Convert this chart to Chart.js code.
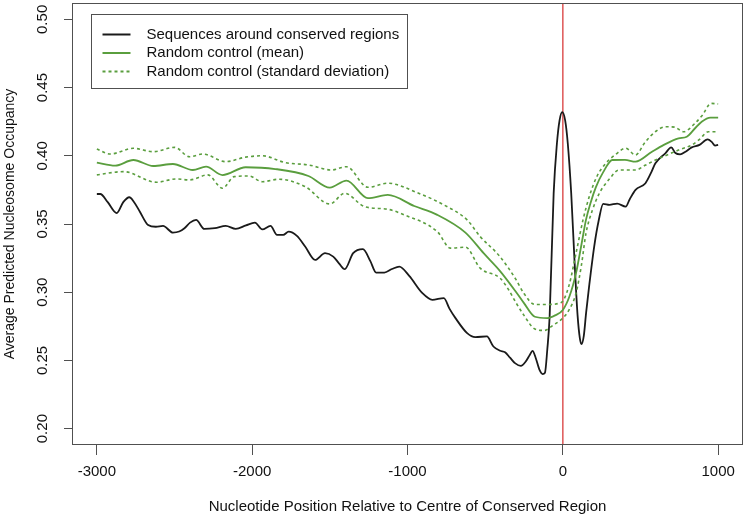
<!DOCTYPE html>
<html>
<head>
<meta charset="utf-8">
<script src="https://cdn.jsdelivr.net/npm/chart.js@4.4.1/dist/chart.umd.min.js"></script>
<style>
  html, body { margin: 0; padding: 0; background: #fff; }
  #wrap { width: 747px; height: 519px; }
</style>
</head>
<body>
<div id="wrap"><canvas id="occChart" width="747" height="519"></canvas></div>
<script>
// values
const seqX = [-3000, -2978, -2930, -2872, -2830, -2791, -2760, -2723, -2670, -2620, -2574, -2510, -2470, -2436, -2400, -2361, -2308, -2240, -2170, -2106, -2040, -1982, -1935, -1882, -1840, -1800, -1765, -1712, -1659, -1595, -1531, -1478, -1440, -1404, -1350, -1287, -1240, -1202, -1149, -1100, -1053, -989, -904, -840, -766, -730, -691, -616, -563, -489, -447, -404, -372, -340, -308, -270, -240, -213, -195, -175, -150, -130, -115, -100, -85, -59, -38, -21, -4, 15, 32, 54, 75, 95, 110, 120, 135, 150, 170, 202, 230, 260, 300, 350, 405, 430, 468, 532, 570, 596, 660, 698, 725, 755, 790, 830, 880, 932, 960, 980, 1000];
const seqY = [0.372, 0.372, 0.366, 0.358, 0.366, 0.3696, 0.366, 0.359, 0.3493, 0.348, 0.3486, 0.3437, 0.3445, 0.3469, 0.351, 0.353, 0.3464, 0.347, 0.3486, 0.3464, 0.349, 0.351, 0.346, 0.3486, 0.342, 0.342, 0.3444, 0.3413, 0.3335, 0.3237, 0.3286, 0.3261, 0.321, 0.3169, 0.3286, 0.3316, 0.323, 0.3144, 0.3144, 0.317, 0.3188, 0.312, 0.2993, 0.2944, 0.2957, 0.288, 0.281, 0.27, 0.2671, 0.2676, 0.2602, 0.2571, 0.256, 0.252, 0.248, 0.246, 0.249, 0.254, 0.257, 0.252, 0.243, 0.240, 0.241, 0.258, 0.282, 0.3725, 0.409, 0.426, 0.432, 0.426, 0.409, 0.3725, 0.3237, 0.283, 0.266, 0.262, 0.268, 0.285, 0.305, 0.3335, 0.352, 0.3647, 0.364, 0.365, 0.3627, 0.368, 0.375, 0.3799, 0.388, 0.3945, 0.4018, 0.4062, 0.402, 0.401, 0.403, 0.4062, 0.408, 0.412, 0.410, 0.4075, 0.408];

const meanX = [-3000, -2882, -2765, -2637, -2510, -2382, -2297, -2191, -2042, -1851, -1638, -1500, -1393, -1255, -1127, -957, -808, -627, -510, -404, -300, -250, -180, -100, -50, 0, 43, 85, 120, 149, 180, 213, 260, 319, 400, 468, 574, 650, 745, 798, 850, 894, 950, 1000];
const meanY = [0.395, 0.3928, 0.3969, 0.3925, 0.394, 0.3896, 0.392, 0.3859, 0.3916, 0.3903, 0.3852, 0.3767, 0.3818, 0.3689, 0.3713, 0.3632, 0.3567, 0.3437, 0.3286, 0.3155, 0.300, 0.292, 0.282, 0.281, 0.283, 0.287, 0.297, 0.314, 0.335, 0.353, 0.366, 0.377, 0.388, 0.3969, 0.397, 0.3957, 0.403, 0.408, 0.4128, 0.414, 0.420, 0.425, 0.428, 0.428];

const upperX = [-3000, -2915, -2765, -2637, -2499, -2403, -2318, -2170, -2042, -1935, -1787, -1638, -1489, -1393, -1255, -1127, -936, -766, -616, -532, -404, -300, -250, -180, -100, -10, 40, 85, 130, 170, 220, 277, 340, 405, 468, 530, 600, 660, 720, 777, 851, 900, 954, 1000];
const upperY = [0.405, 0.4013, 0.4055, 0.403, 0.4062, 0.3993, 0.4013, 0.3957, 0.399, 0.400, 0.395, 0.3933, 0.3896, 0.392, 0.3769, 0.3799, 0.3729, 0.364, 0.353, 0.3408, 0.326, 0.309, 0.299, 0.291, 0.291, 0.2925, 0.305, 0.3286, 0.353, 0.370, 0.385, 0.3945, 0.401, 0.4055, 0.4006, 0.41, 0.418, 0.4213, 0.421, 0.4176, 0.4238, 0.430, 0.4384, 0.438];

const lowerX = [-3000, -2829, -2616, -2489, -2403, -2286, -2191, -2116, -2020, -1935, -1829, -1659, -1500, -1404, -1276, -1127, -1021, -808, -723, -627, -532, -404, -350, -300, -250, -180, -120, -60, 0, 40, 85, 120, 149, 190, 234, 300, 362, 468, 530, 596, 680, 745, 830, 880, 936, 1000];
const lowerY = [0.386, 0.3884, 0.3806, 0.383, 0.3823, 0.386, 0.3762, 0.3847, 0.3852, 0.381, 0.3828, 0.3774, 0.3647, 0.3725, 0.3627, 0.3608, 0.3567, 0.3444, 0.3323, 0.333, 0.3176, 0.3103, 0.302, 0.292, 0.283, 0.273, 0.272, 0.276, 0.281, 0.287, 0.2993, 0.32, 0.3432, 0.360, 0.3723, 0.383, 0.3896, 0.3896, 0.393, 0.3969, 0.401, 0.4042, 0.4079, 0.412, 0.4176, 0.4176];

const xTicks = [-3000, -2000, -1000, 0, 1000];
const yTicks = [0.20, 0.25, 0.30, 0.35, 0.40, 0.45, 0.50];
const labels = ['Sequences around conserved regions', 'Random control (mean)', 'Random control (standard deviation)'];

const xMin = -3160, xMax = 1160, yMin = 0.188, yMax = 0.512;
const green = '#5a9e3e';
const fontFam = '"Liberation Sans", Arial, Helvetica, sans-serif';
const fontSize = 15;

function pts(xs, ys) {
    return xs.map((x, i) => ({x: x, y: ys[i]}));
}

// dataset indices in the order the legend lists them
const legendOrder = [3, 2, 0];

// frame around the plot and the boxed legend in the top left corner
const framePlugin = {
    id: 'framePlugin',
    afterDraw(chart) {
        const ctx = chart.ctx;
        const a = chart.chartArea;
        ctx.save();
        ctx.strokeStyle = '#505050';
        ctx.lineWidth = 1;
        ctx.strokeRect(Math.round(a.left) + 0.5, Math.round(a.top) + 0.5,
            Math.round(a.right - a.left) - 1, Math.round(a.bottom - a.top) - 1);

        // legend
        ctx.font = fontSize + 'px ' + fontFam;
        const entries = legendOrder.map(i => chart.data.datasets[i]);
        let textW = 0;
        entries.forEach(d => { textW = Math.max(textW, ctx.measureText(d.label).width); });
        const bx = Math.round(a.left) + 19.5, by = Math.round(a.top) + 11.5;
        const bw = 55 + textW + 8, rowH = 18.5;
        const bh = entries.length * rowH + 18;
        ctx.strokeRect(bx, by, Math.round(bw), Math.round(bh));
        entries.forEach((d, i) => {
            const cy = by + 20 + i * rowH;
            ctx.strokeStyle = d.borderColor;
            ctx.lineWidth = 2;
            ctx.setLineDash(d.borderDash || []);
            ctx.beginPath();
            ctx.moveTo(bx + 11, cy);
            ctx.lineTo(bx + 39, cy);
            ctx.stroke();
            ctx.setLineDash([]);
            ctx.fillStyle = '#111';
            ctx.textBaseline = 'middle';
            ctx.textAlign = 'left';
            ctx.fillText(d.label, bx + 55, cy);
        });
        ctx.restore();
    }
};

const ctx = document.getElementById('occChart').getContext('2d');
const occChart = new Chart(ctx, {
    type: 'line',
    data: {
        datasets: [
            {
                label: labels[2],
                data: pts(upperX, upperY),
                borderColor: green,
                borderWidth: 1.6,
                borderDash: [3, 3]
            },
            {
                label: labels[2],
                data: pts(lowerX, lowerY),
                borderColor: green,
                borderWidth: 1.6,
                borderDash: [3, 3]
            },
            {
                label: labels[1],
                data: pts(meanX, meanY),
                borderColor: green,
                borderWidth: 1.8
            },
            {
                label: labels[0],
                data: pts(seqX, seqY),
                borderColor: '#1a1a1a',
                borderWidth: 1.8
            },
            {
                label: 'centre',
                data: [{x: 0, y: yMin}, {x: 0, y: yMax}],
                borderColor: '#e06060',
                borderWidth: 1.6,
                tension: 0
            }
        ]
    },
    options: {
        responsive: false,
        animation: false,
        events: [],
        layout: { padding: { top: 3, right: 4, left: 0, bottom: 0 } },
        elements: {
            point: { radius: 0 },
            line: { tension: 0.35, cubicInterpolationMode: 'monotone', fill: false }
        },
        plugins: {
            legend: { display: false },
            tooltip: { enabled: false }
        },
        scales: {
            x: {
                type: 'linear',
                min: xMin,
                max: xMax,
                afterBuildTicks: s => { s.ticks = xTicks.map(v => ({value: v})); },
                afterFit: s => { s.height = 74; s.paddingLeft = 0; s.paddingRight = 0; },
                grid: { drawOnChartArea: false, tickLength: 10, color: '#505050' },
                border: { display: false },
                ticks: {
                    font: { family: fontFam, size: fontSize },
                    color: '#111',
                    padding: 8,
                    maxRotation: 0,
                    callback: v => String(v)
                },
                title: {
                    display: true,
                    text: 'Nucleotide Position Relative to Centre of Conserved Region',
                    font: { family: fontFam, size: fontSize },
                    color: '#111',
                    padding: { top: 0, bottom: 3 }
                }
            },
            y: {
                min: yMin,
                max: yMax,
                afterBuildTicks: s => { s.ticks = yTicks.map(v => ({value: v})); },
                afterFit: s => { s.width = 72; s.paddingTop = 0; s.paddingBottom = 0; },
                grid: { drawOnChartArea: false, tickLength: 8, color: '#505050' },
                border: { display: false },
                ticks: {
                    font: { family: fontFam, size: fontSize },
                    color: '#111',
                    padding: 7,
                    minRotation: 90,
                    maxRotation: 90,
                    crossAlign: 'center',
                    callback: v => v.toFixed(2)
                },
                title: {
                    display: true,
                    text: 'Average Predicted Nucleosome Occupancy',
                    font: { family: fontFam, size: fontSize - 1 },
                    color: '#111',
                    padding: { top: 2, bottom: 0 }
                }
            }
        }
    },
    plugins: [framePlugin]
});
</script>
</body>
</html>
